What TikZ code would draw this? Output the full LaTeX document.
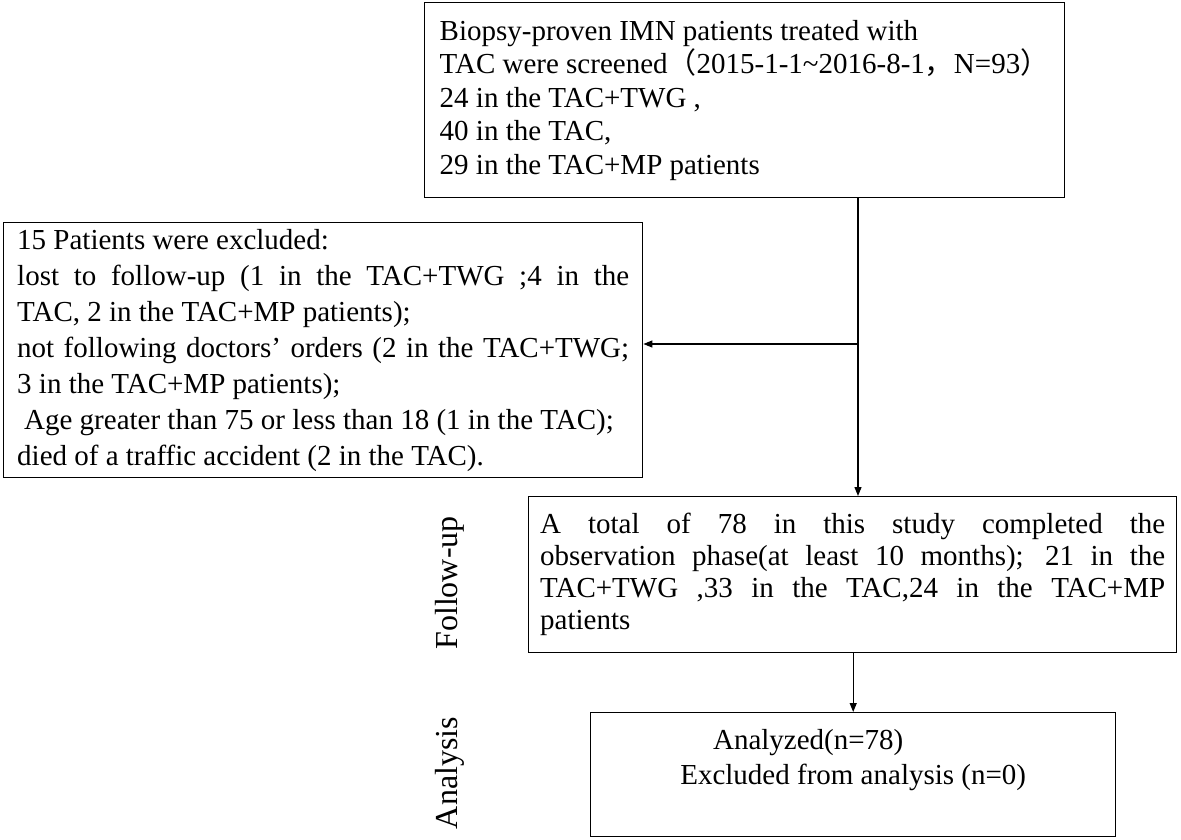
\documentclass[tikz,border=0pt]{standalone}
\usepackage{fontspec}
\setmainfont{Liberation Serif}
\newfontfamily\cjk{Noto Sans CJK SC}
\usetikzlibrary{positioning,arrows.meta}

\begin{document}
\begin{tikzpicture}[x=1pt,y=-1pt,
  box/.style={draw, line width=1.4pt, anchor=north west, inner ysep=0pt},
  arr/.style={line width=1.2pt, -{Triangle[length=9pt,width=7pt]}},
  side/.style={rotate=90, font=\fontsize{32}{36}\selectfont}]
\useasboundingbox (0,0) rectangle (1181,840);
% boxes
\node[box, inner xsep=15pt, minimum height=195pt, align=left,
  font=\fontsize{29}{33.5}\selectfont] (screened) at (424,2)
  {Biopsy-proven IMN patients treated with\\
   TAC were screened{\cjk （}2015-1-1\textasciitilde 2016-8-1{\cjk ，}N=93{\cjk ）}\\
   24 in the TAC+TWG ,\\
   40 in the TAC,\\
   29 in the TAC+MP patients};
\node[box, inner xsep=13.5pt, text width=612pt, minimum height=255pt, align=justify,
  font=\fontsize{29}{36}\selectfont] (excluded) at (3,222)
  {15 Patients were excluded:\newline
   lost to follow-up (1 in the TAC+TWG ;4 in the\linebreak
   TAC, 2 in the TAC+MP patients);\newline
   not following doctors' orders (2 in the TAC+TWG;\linebreak
   3 in the TAC+MP patients);\newline
   \hspace*{7pt}Age greater than 75 or less than 18 (1 in the TAC);\newline
   died of a traffic accident (2 in the TAC).};
\node[box, inner xsep=11.5pt, text width=625pt, minimum height=156pt, align=justify,
  font=\fontsize{29}{32}\selectfont] (followup) at (528,496)
  {A total of 78 in this study completed the\linebreak
   observation phase(at least 10 months); 21 in the\linebreak
   TAC+TWG ,33 in the TAC,24 in the TAC+MP\linebreak
   patients};
\node[box, minimum width=525pt, minimum height=124pt, align=center,
  font=\fontsize{29}{35}\selectfont] (analysis) at (590,712)
  {Analyzed(n=78)\hspace*{90pt}\\
   Excluded from analysis (n=0)\\
   \mbox{}};
% side labels
\node[side] (fuplabel) at (450,583) {Follow-up};
\node[side] (analabel) at (450,773) {Analysis};
% connectors
\coordinate (split) at (858,344);
\draw[arr] (screened.south -| split) -- (followup.north -| split);
\draw[arr] (split) -- (split -| excluded.east);
\draw[arr] (followup.south -| analysis.north) -- (analysis.north);
\end{tikzpicture}
\end{document}
